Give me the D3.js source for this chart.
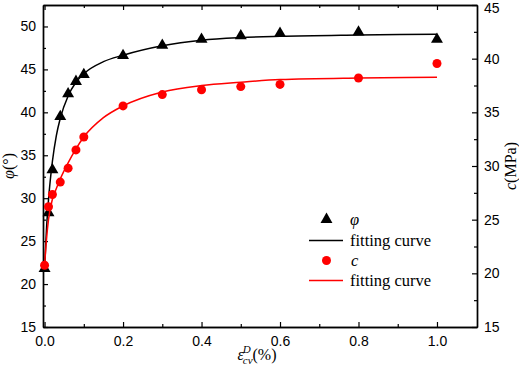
<!DOCTYPE html>
<html>
<head>
<meta charset="utf-8">
<script src="https://cdn.jsdelivr.net/npm/d3@7"></script>
<style>
  body { margin: 0; background: #fff; }
  svg text { fill: #000; }
  .serif { font-family: "Liberation Serif", "DejaVu Serif", serif; }
  .sans { font-family: "Liberation Sans", Arial, sans-serif; }
</style>
</head>
<body>
<div id="chart"></div>
<script>
// strain values (%)
const strainPts = [0, 0.01, 0.02, 0.04, 0.06, 0.08, 0.1, 0.2, 0.3, 0.4, 0.5, 0.6, 0.8, 1.0];
// friction angle φ (°), left axis
const phiPts = [21.8, 28.3, 33.3, 39.5, 42.15, 43.6, 44.4, 46.6, 47.8, 48.5, 48.9, 49.2, 49.35, 48.5];
// cohesion c (MPa), right axis
const cPts = [20.75, 26.2, 27.35, 28.5, 29.8, 31.5, 32.7, 35.6, 36.65, 37.1, 37.4, 37.6, 38.2, 39.55];

// fitting curves
const fitX = [0, 0.005, 0.01, 0.02, 0.03, 0.04, 0.06, 0.08, 0.1, 0.15, 0.2, 0.3, 0.4, 0.5, 0.6, 0.8, 1.0];
const phiFit = [21.8, 26.5, 29.8, 34.3, 37.3, 39.3, 41.9, 43.5, 44.5, 45.9, 46.65, 47.75, 48.4, 48.7, 48.85, 49.0, 49.1];
const cFit = [20.7, 23.2, 25.0, 26.9, 27.9, 28.8, 30.3, 31.6, 32.7, 34.5, 35.6, 36.9, 37.5, 37.8, 38.05, 38.2, 38.26];

const xTicks = [0.0, 0.2, 0.4, 0.6, 0.8, 1.0];
const leftTicks = [15, 20, 25, 30, 35, 40, 45, 50];
const rightTicks = [15, 20, 25, 30, 35, 40, 45];

const W = 519, H = 369;
const margin = {top: 5, right: 42, bottom: 42, left: 43};

const svg = d3.select("#chart").append("svg")
    .attr("width", W)
    .attr("height", H);

const x = d3.scaleLinear().domain([-0.004, 1.102]).range([margin.left, W - margin.right]);
const yL = d3.scaleLinear().domain([15, 52.5]).range([H - margin.bottom, margin.top]);
const yR = d3.scaleLinear().domain([15, 45]).range([H - margin.bottom, margin.top]);

// axes: ticks point inward
function styleAxis(g) {
    g.attr("font-family", null).attr("font-size", null);
    g.select(".domain").attr("stroke", "#000").attr("stroke-width", 1.4);
    g.selectAll(".tick line").attr("stroke", "#000").attr("stroke-width", 1.2);
    g.selectAll(".tick text").attr("class", "sans").attr("font-size", 14).attr("fill", "#000");
}

const minorX = d3.range(0.1, 1.1, 0.2);
const minorL = d3.range(17.5, 52.5, 5);
const minorR = d3.range(17.5, 45, 5);

// bottom
svg.append("g")
    .attr("transform", `translate(0,${H - margin.bottom})`)
    .call(d3.axisBottom(x).tickValues(xTicks).tickSize(-5).tickPadding(9).tickFormat(d3.format(".1f")).tickSizeOuter(0))
    .call(styleAxis);
svg.append("g")
    .attr("transform", `translate(0,${H - margin.bottom})`)
    .call(d3.axisBottom(x).tickValues(minorX).tickSize(-3).tickFormat("").tickSizeOuter(0))
    .call(styleAxis);
// top
svg.append("g")
    .attr("transform", `translate(0,${margin.top})`)
    .call(d3.axisTop(x).tickValues(xTicks).tickSize(-5).tickFormat("").tickSizeOuter(0))
    .call(styleAxis);
svg.append("g")
    .attr("transform", `translate(0,${margin.top})`)
    .call(d3.axisTop(x).tickValues(minorX).tickSize(-3).tickFormat("").tickSizeOuter(0))
    .call(styleAxis);
// left
svg.append("g")
    .attr("transform", `translate(${margin.left},0)`)
    .call(d3.axisLeft(yL).tickValues(leftTicks).tickSize(-5).tickPadding(7).tickSizeOuter(0))
    .call(styleAxis);
svg.append("g")
    .attr("transform", `translate(${margin.left},0)`)
    .call(d3.axisLeft(yL).tickValues(minorL).tickSize(-3).tickFormat("").tickSizeOuter(0))
    .call(styleAxis);
// right
const rightAxis = svg.append("g")
    .attr("transform", `translate(${W - margin.right},0)`)
    .call(d3.axisRight(yR).tickValues(rightTicks).tickSize(-5).tickPadding(7).tickSizeOuter(0))
    .call(styleAxis);
// top label sits right at the edge, nudge it down a little
rightAxis.selectAll(".tick text").filter(d => d === 45).attr("dy", "0.5em");
svg.append("g")
    .attr("transform", `translate(${W - margin.right},0)`)
    .call(d3.axisRight(yR).tickValues(minorR).tickSize(-3).tickFormat("").tickSizeOuter(0))
    .call(styleAxis);

// fitting curves and points
const phiLine = d3.line().x(d => x(d[0])).y(d => yL(d[1])).curve(d3.curveMonotoneX);
const cLine = d3.line().x(d => x(d[0])).y(d => yR(d[1])).curve(d3.curveMonotoneX);

svg.append("path")
    .datum(d3.zip(fitX, phiFit))
    .attr("d", phiLine)
    .attr("fill", "none")
    .attr("stroke", "#000")
    .attr("stroke-width", 1.5);

const tri = d3.symbol().type(d3.symbolTriangle).size(62);

svg.selectAll(".phi-pt")
    .data(d3.zip(strainPts, phiPts))
    .enter().append("path")
    .attr("class", "phi-pt")
    .attr("d", tri)
    .attr("transform", d => `translate(${x(d[0])},${yL(d[1])})`)
    .attr("fill", "#000");

svg.append("path")
    .datum(d3.zip(fitX, cFit))
    .attr("d", cLine)
    .attr("fill", "none")
    .attr("stroke", "#ff0000")
    .attr("stroke-width", 1.5);

svg.selectAll(".c-pt")
    .data(d3.zip(strainPts, cPts))
    .enter().append("circle")
    .attr("class", "c-pt")
    .attr("cx", d => x(d[0]))
    .attr("cy", d => yR(d[1]))
    .attr("r", 4.5)
    .attr("fill", "#ff0000");

// legend
const leg = svg.append("g").attr("class", "serif").attr("font-size", 16.5);
leg.append("path").attr("d", tri).attr("transform", "translate(326.5,219.5)").attr("fill", "#000");
leg.append("text").attr("x", 350).attr("y", 225).attr("font-style", "italic").text("φ");
leg.append("line").attr("x1", 309).attr("x2", 343).attr("y1", 240.5).attr("y2", 240.5)
    .attr("stroke", "#000").attr("stroke-width", 1.5);
leg.append("text").attr("x", 350).attr("y", 246).text("fitting curve");
leg.append("circle").attr("cx", 326.5).attr("cy", 260.5).attr("r", 4.5).attr("fill", "#ff0000");
leg.append("text").attr("x", 351).attr("y", 266).attr("font-style", "italic").text("c");
leg.append("line").attr("x1", 309).attr("x2", 343).attr("y1", 280.5).attr("y2", 280.5)
    .attr("stroke", "#ff0000").attr("stroke-width", 1.5);
leg.append("text").attr("x", 350).attr("y", 286).text("fitting curve");

// axis titles
const xt = svg.append("text")
    .attr("class", "serif")
    .attr("x", 257).attr("y", 360)
    .attr("text-anchor", "middle")
    .attr("font-size", 16);
xt.append("tspan").attr("font-style", "italic").text("ε");
xt.append("tspan").attr("font-style", "italic").attr("font-size", 11).attr("dy", -7).attr("dx", -1).text("D");
xt.append("tspan").attr("font-style", "italic").attr("font-size", 11).attr("dy", 11).attr("dx", -8).text("cv");
xt.append("tspan").attr("dy", -4).text("(%)");

const yt = svg.append("text")
    .attr("class", "serif")
    .attr("transform", `translate(14,${(margin.top + H - margin.bottom) / 2}) rotate(-90)`)
    .attr("text-anchor", "middle")
    .attr("font-size", 16);
yt.append("tspan").attr("font-style", "italic").text("φ");
yt.append("tspan").text("(°)");

const yt2 = svg.append("text")
    .attr("class", "serif")
    .attr("transform", `translate(516,${(margin.top + H - margin.bottom) / 2}) rotate(-90)`)
    .attr("text-anchor", "middle")
    .attr("font-size", 16);
yt2.append("tspan").attr("font-style", "italic").text("c");
yt2.append("tspan").text("(MPa)");
</script>
</body>
</html>
